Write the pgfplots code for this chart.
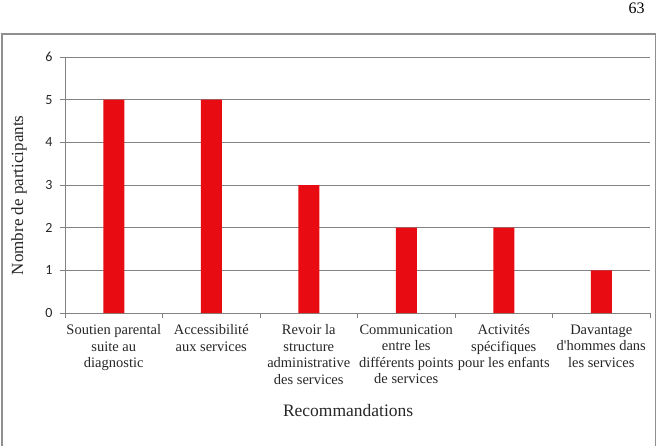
\documentclass[border=0pt]{standalone}
\usepackage{pgfplots}
\pgfplotsset{compat=1.18}
\usepackage{fontspec}
\setmainfont{Liberation Serif}
\newfontfamily\calibri{Carlito}
\definecolor{barred}{RGB}{232,12,18}
\definecolor{gridgray}{RGB}{130,130,130}
\begin{document}
\begin{tikzpicture}[x=1pt,y=1pt]
\useasboundingbox (0pt,0pt) rectangle (658pt,445pt);
\draw[gridgray!90, line width=1.3pt] (2pt,-5pt) -- (2pt,411pt) -- (655.5pt,411pt) -- (655.5pt,-5pt);
\node[font=\fontsize{16}{18}\selectfont, anchor=base] at (636.5pt,431pt) {63};
\begin{axis}[
  at={(113.75pt,132pt)}, anchor=origin, scale only axis,
  width=585pt, height=256pt,
  xmin=-0.5, xmax=5.5, ymin=0, ymax=6,
  axis x line*=bottom, axis y line*=left,
  axis line style={gridgray, line width=0.8pt, -},
  ytick={0,...,6}, ymajorgrids,
  major grid style={gridgray, line width=0.8pt},
  tick align=outside, major tick length=5pt,
  tick style={gridgray, line width=0.8pt},
  xtick={-0.5,0.5,...,5.5},
  xticklabels={,,,,,,},
  extra x ticks={0,1,2,3,4,5},
  extra x tick labels={{Soutien parental\\suite au\\diagnostic},{Accessibilité\\aux services},{Revoir la\\structure\\administrative\\des services},{Communication\\entre les\\différents points\\de services},{Activités\\spécifiques\\pour les enfants},{Davantage\\d\textquotesingle hommes dans\\les services}},
  extra x tick style={major tick length=0pt},
  xticklabel style={font=\fontsize{14.5}{16.5}\selectfont, align=center, text=black!85, yshift=-8pt},
  yticklabel style={font=\calibri\fontsize{14}{16}\selectfont, /pgf/number format/assume math mode=true, text=black!85, xshift=-4pt},
  ylabel={Nombre de participants},
  ylabel style={font=\fontsize{17}{20}\selectfont, at={(axis description cs:-0.0786,0.46)}, anchor=center, text=black!85},
  xlabel={Recommandations},
  xlabel style={font=\fontsize{17.5}{20}\selectfont, at={(axis description cs:0.484,-0.379)}, anchor=center, text=black!85},
]
\addplot[ybar, bar width=21pt, fill=barred, draw=none] coordinates {(0,5) (1,5) (2,3) (3,2) (4,2) (5,1)};
\end{axis}
\end{tikzpicture}
\end{document}
